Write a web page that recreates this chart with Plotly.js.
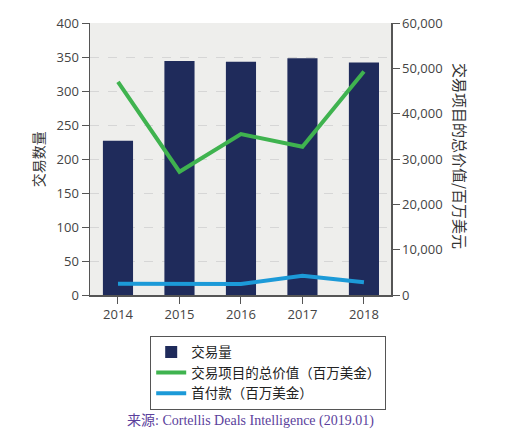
<!DOCTYPE html>
<html>
<head>
<meta charset="utf-8">
<script src="https://cdn.plot.ly/plotly-3.0.1.min.js"></script>
<style>
  html, body { margin: 0; padding: 0; background: #fff; }
  #chart { width: 530px; height: 432px; }
</style>
</head>
<body>
<div id="chart"></div>
<script>
// values
var years = [2014, 2015, 2016, 2017, 2018];
var dealCount = [227, 344, 343, 348, 342];          // 交易量 (left axis)
var totalValue = [47000, 27200, 35500, 32700, 49300]; // 总价值, 百万美金 (right axis)
var upfront = [2500, 2500, 2450, 4250, 2800];         // 首付款, 百万美金 (right axis)

var leftTicks = [0, 50, 100, 150, 200, 250, 300, 350, 400];
var rightTicks = [0, 10000, 20000, 30000, 40000, 50000, 60000];

var traceBars = {
    x: years,
    y: dealCount,
    type: 'bar',
    name: '交易量',
    width: 0.49,
    marker: { color: '#1f2b5b' }
};

var traceTotal = {
    x: years,
    y: totalValue,
    yaxis: 'y2',
    type: 'scatter',
    mode: 'lines',
    name: '交易项目的总价值（百万美金）',
    line: { color: '#3fb34f', width: 4 }
};

var traceUpfront = {
    x: years,
    y: upfront,
    yaxis: 'y2',
    type: 'scatter',
    mode: 'lines',
    name: '首付款（百万美金）',
    line: { color: '#1c9ad8', width: 4 }
};

var tickFont = { family: 'Open Sans, Lato, sans-serif', size: 13, color: '#444' };

var layout = {
    width: 530,
    height: 432,
    margin: { l: 90, r: 139, t: 23, b: 137 },
    paper_bgcolor: '#ffffff',
    plot_bgcolor: '#eeeeec',
    showlegend: true,
    xaxis: {
        type: 'linear',
        range: [2013.545, 2018.44],
        tickvals: years,
        ticktext: years.map(String),
        ticks: 'outside',
        ticklen: 7,
        tickcolor: '#555',
        showline: true,
        linecolor: '#555',
        linewidth: 1.5,
        showgrid: false,
        zeroline: false,
        tickfont: tickFont,
        fixedrange: true
    },
    yaxis: {
        range: [0, 400],
        tickvals: leftTicks,
        ticks: 'outside',
        ticklen: 7,
        tickcolor: '#555',
        showline: true,
        linecolor: '#555',
        linewidth: 1.5,
        showgrid: true,
        gridcolor: '#d6d6d6',
        griddash: 'dash',
        gridwidth: 1,
        zeroline: false,
        tickfont: tickFont,
        fixedrange: true
    },
    yaxis2: {
        overlaying: 'y',
        side: 'right',
        range: [0, 60000],
        tickvals: rightTicks,
        tickformat: ',d',
        ticks: 'outside',
        ticklen: 7,
        tickcolor: '#555',
        showline: true,
        linecolor: '#555',
        linewidth: 1.5,
        showgrid: false,
        zeroline: false,
        tickfont: tickFont,
        fixedrange: true
    },
    legend: {
        x: 0.2,
        y: -0.15,
        xanchor: 'left',
        yanchor: 'top',
        bgcolor: '#ffffff',
        bordercolor: '#555',
        borderwidth: 1,
        tracegroupgap: 0,
        itemwidth: 30,
        font: { family: 'Noto Sans CJK SC, sans-serif', size: 13.5, color: '#222' }
    },
    annotations: [
        {
            text: '交易数量',
            xref: 'paper', yref: 'paper',
            x: -0.172, y: 0.5,
            xanchor: 'center', yanchor: 'middle',
            textangle: -90,
            showarrow: false,
            font: { family: 'Noto Sans CJK SC, sans-serif', size: 14, color: '#333' }
        },
        {
            text: '交易项目的总价值/百万美元',
            xref: 'paper', yref: 'paper',
            x: 1.23, y: 0.51,
            xanchor: 'center', yanchor: 'middle',
            textangle: 90,
            showarrow: false,
            font: { family: 'Noto Sans CJK SC, sans-serif', size: 15, color: '#333' }
        },
        {
            text: '来源: Cortellis Deals Intelligence (2019.01)',
            xref: 'paper', yref: 'paper',
            x: 0.532, y: -0.462,
            xanchor: 'center', yanchor: 'middle',
            showarrow: false,
            font: { family: 'Liberation Serif, Noto Sans CJK SC, serif', size: 14, color: '#5b3f9c' }
        }
    ]
};

Plotly.newPlot('chart', [traceBars, traceTotal, traceUpfront], layout, { displayModeBar: false, staticPlot: true });
</script>
</body>
</html>
